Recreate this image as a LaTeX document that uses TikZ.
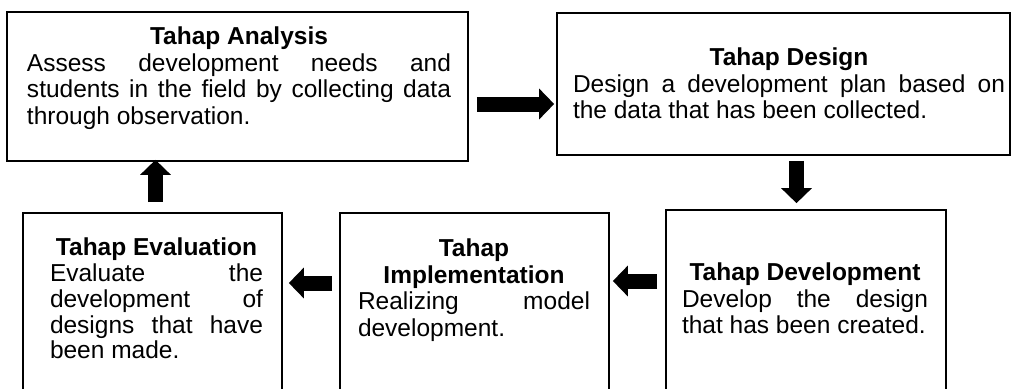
\documentclass[tikz,border=0pt]{standalone}
\usepackage{fontspec}
\setmainfont{Liberation Sans}
\usetikzlibrary{arrows.meta}

\begin{document}
\begin{tikzpicture}[x=1pt,y=-1pt,
    frame/.style={draw, line width=1.7pt, inner sep=0pt},
    stagetext/.style={anchor=north, inner sep=0pt, align=justify,
        font=\fontsize{24.5}{26.5}\selectfont},
    blockarrow/.style={line width=15pt, -{Triangle[length=15pt,width=30pt]}}]
    \useasboundingbox (0,0) rectangle (1011,388);
    \clip (0,0) rectangle (1011,388);

    \node[frame, minimum width=461, minimum height=149] (analysis) at (237.5,86.5) {};
    \node[frame, minimum width=453, minimum height=142] (design) at (783.5,84) {};
    \node[frame, minimum width=280, minimum height=188] (development) at (806,304) {};
    \node[frame, minimum width=269, minimum height=185] (implementation) at (474.5,305.5) {};
    \node[frame, minimum width=259, minimum height=185] (evaluation) at (152.5,305.5) {};

    \node[stagetext, text width=424] (analysis-text) at (239,27)
        {{\centering\bfseries Tahap Analysis\par}Assess development needs and\linebreak
        students in the field by collecting data\linebreak through observation.};
    \node[stagetext, text width=432] (design-text) at (789,48)
        {{\centering\bfseries Tahap Design\par}Design a development plan based on\linebreak
        the data that has been collected.};
    \node[stagetext, text width=246] (development-text) at (805,263)
        {{\centering\bfseries Tahap Development\par}Develop the design\linebreak
        that has been created.};
    \node[stagetext, text width=232] (implementation-text) at (474,239)
        {{\centering\bfseries Tahap\\Implementation\par}Realizing model\linebreak
        development.};
    \node[stagetext, text width=213, font=\fontsize{24.5}{25.7}\selectfont] (evaluation-text) at (156.5,238)
        {{\centering\bfseries Tahap Evaluation\par}Evaluate the\linebreak
        development of\linebreak designs that have\linebreak been made.};

    \draw[blockarrow, shorten <=8pt, shorten >=2pt] (analysis.east |- 0,104) -- (design.west |- 0,104);
    \draw[blockarrow, shorten <=5pt, shorten >=6pt] (design.south -| 796.5,0) -- (development.north -| 796.5,0);
    \draw[blockarrow, shorten <=8pt, shorten >=3pt] (development.west |- 0,281) -- (implementation.east |- 0,281);
    \draw[blockarrow, shorten <=7pt, shorten >=6pt] (implementation.west |- 0,283) -- (evaluation.east |- 0,283);
    \draw[blockarrow, shorten <=10pt, shorten >=-2pt] (evaluation.north -| 155.5,0) -- (analysis.south -| 155.5,0);
\end{tikzpicture}
\end{document}
